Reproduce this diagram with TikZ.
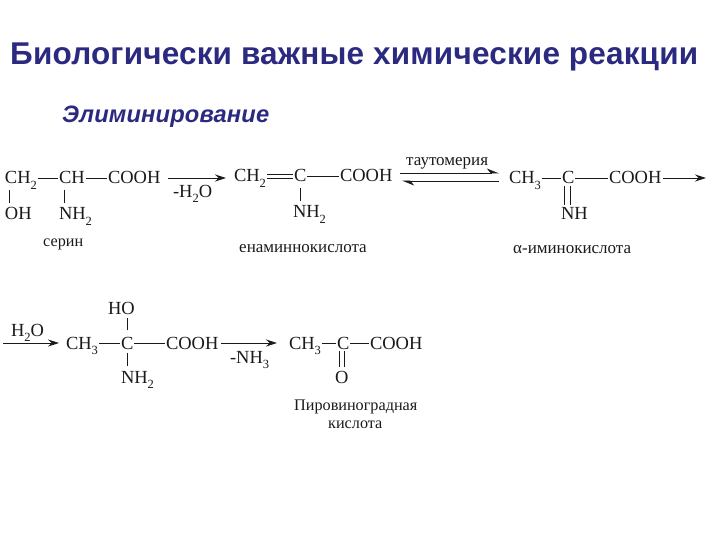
\documentclass[tikz,border=0pt]{standalone}
\usepackage{fontspec}
\setmainfont{Liberation Serif}
\newfontfamily\headfont[LetterSpace=0.6]{Liberation Sans}
\usetikzlibrary{arrows.meta}
\definecolor{headblue}{HTML}{2B2A80}
\definecolor{ink}{HTML}{1A1A1A}
\newcommand{\sbs}[1]{\raisebox{-0.28em}{\fontsize{12.5}{12.5}\selectfont #1}}
\tikzset{
  chem/.style={anchor=base west,inner sep=0pt,outer sep=1pt,text height=12pt,text depth=0pt,text=ink,font=\fontsize{18.5}{20}\selectfont},
  lbl/.style={anchor=base west,inner sep=0pt,text=ink,font=\fontsize{17}{19}\selectfont},
  lbls/.style={anchor=base west,inner sep=0pt,text=ink,font=\fontsize{16.2}{19}\selectfont},
  bond/.style={draw=ink,line width=0.8pt},
  rx/.style={draw=ink,line width=0.9pt,-{Stealth[length=11pt,width=7pt]}},
  eqm/.style={draw=ink,line width=0.9pt},
  head/.style={anchor=base west,inner sep=0pt,text=headblue}
}
\begin{document}
\begin{tikzpicture}[x=1pt,y=-1pt]
\useasboundingbox (0,0) rectangle (720,540);
\node[head,font=\headfont\bfseries\fontsize{31.5}{34}\selectfont] (title) at (10,65) {Биологически важные химические реакции};
\node[head,font=\headfont\bfseries\itshape\fontsize{23.7}{26}\selectfont] (sub) at (62,123) {Элиминирование};

% serine
\node[chem] (a1) at (4,184) {CH\sbs{2}};
\node[chem] (a2) at (58,184) {CH};
\node[chem] (a3) at (107,184) {COOH};
\node[chem] (a4) at (4,220) {OH};
\node[chem] (a5) at (58,220) {NH\sbs{2}};
\draw[bond] (a1) -- (a2);
\draw[bond] (a2) -- (a3);
\draw[bond,shorten <=5pt,shorten >=4pt] ([xshift=5pt]a1.south west) -- ([xshift=5pt]a4.north west);
\draw[bond,shorten <=5pt,shorten >=4pt] ([xshift=6pt]a2.south west) -- ([xshift=6pt]a5.north west);
\node[lbls] (l1) at (43,246) {серин};

% enamine
\node[chem] (b1) at (233,182) {CH\sbs{2}};
\node[chem] (b2) at (293,182) {C};
\node[chem] (b3) at (339,182) {COOH};
\node[chem] (b4) at (292,218) {NH\sbs{2}};
\draw[bond] ([yshift=-2pt]b1.east) -- ([yshift=-2pt]b2.west);
\draw[bond] ([yshift=2pt]b1.east) -- ([yshift=2pt]b2.west);
\draw[bond] (b2) -- (b3);
\draw[bond,shorten <=5pt,shorten >=4pt] (b2.south) -- (b2.south |- b4.north);
\node[lbl] (l2) at (239,252) {енаминнокислота};

\draw[rx,shorten <=7pt,shorten >=7pt] (a3.east) -- (a3.east -| b1.west);
\node[chem,text height=13pt] (m1) at (172,197) {-H\sbs{2}O};

% imino
\node[chem] (c1) at (508,184) {CH\sbs{3}};
\node[chem] (c2) at (561,184) {C};
\node[chem] (c3) at (608,184) {COOH};
\node[chem] (c4) at (560,219) {NH};
\coordinate (c5) at (706,177);
\draw[bond] (c1) -- (c2);
\draw[bond] (c2) -- (c3);
\draw[bond,shorten <=1pt,shorten >=1pt] ([xshift=-4pt]c2.south) -- ([xshift=-4pt]c2.south |- c4.north);
\draw[bond,shorten <=1pt,shorten >=1pt] ([xshift=2pt]c2.south) -- ([xshift=2pt]c2.south |- c4.north);
\draw[rx,shorten <=1pt] (c3.east) -- (c3.east -| c5);
\node[lbl] (l3) at (513,253) {α-иминокислота};

% tautomerism
\coordinate (t1) at (400,173);
\coordinate (t2) at (499,173);
\coordinate (t3) at (499,181);
\coordinate (t4) at (402,181);
\draw[eqm,-{Stealth[length=11pt,width=9pt,harpoon]}] (t1) -- (t2);
\draw[eqm,-{Stealth[length=11pt,width=9pt,harpoon]}] (t3) -- (t4);
\node[lbl] (l4) at (406,166) {таутомерия};

% second row
\coordinate (d0) at (3,343);
\node[chem,text height=13pt] (d1) at (10,336) {H\sbs{2}O};
\node[chem] (d2) at (65,349) {CH\sbs{3}};
\node[chem] (d3) at (120,349) {C};
\node[chem] (d4) at (165,349) {COOH};
\node[chem] (d5) at (107,314) {HO};
\node[chem] (d6) at (120,383) {NH\sbs{2}};
\draw[rx,shorten >=6pt] (d0) -- (d0 -| d2.west);
\draw[bond] (d2) -- (d3);
\draw[bond] (d3) -- (d4);
\draw[bond,shorten <=6pt,shorten >=3pt] (d3.north) -- (d3.north |- d5.south);
\draw[bond,shorten <=3pt,shorten >=4pt] (d3.south) -- (d3.south |- d6.north);

\node[chem] (e1) at (288,349) {CH\sbs{3}};
\node[chem] (e2) at (336,349) {C};
\node[chem] (e3) at (369,349) {COOH};
\node[chem] (e4) at (334,383) {O};
\draw[bond] (e1) -- (e2);
\draw[bond] (e2) -- (e3);
\draw[bond,shorten <=1pt,shorten >=3pt] ([xshift=-3.5pt]e2.south) -- ([xshift=-3.5pt]e2.south |- e4.north);
\draw[bond,shorten <=1pt,shorten >=3pt] ([xshift=1.5pt]e2.south) -- ([xshift=1.5pt]e2.south |- e4.north);
\draw[rx,shorten <=2pt,shorten >=11pt] (d4.east) -- (d4.east -| e1.west);
\node[chem,text height=13pt] (m2) at (229,363) {-NH\sbs{3}};
\node[lbls] (l5) at (294,410) {Пировиноградная};
\node[lbls] (l6) at (328,428) {кислота};
\end{tikzpicture}
\end{document}
